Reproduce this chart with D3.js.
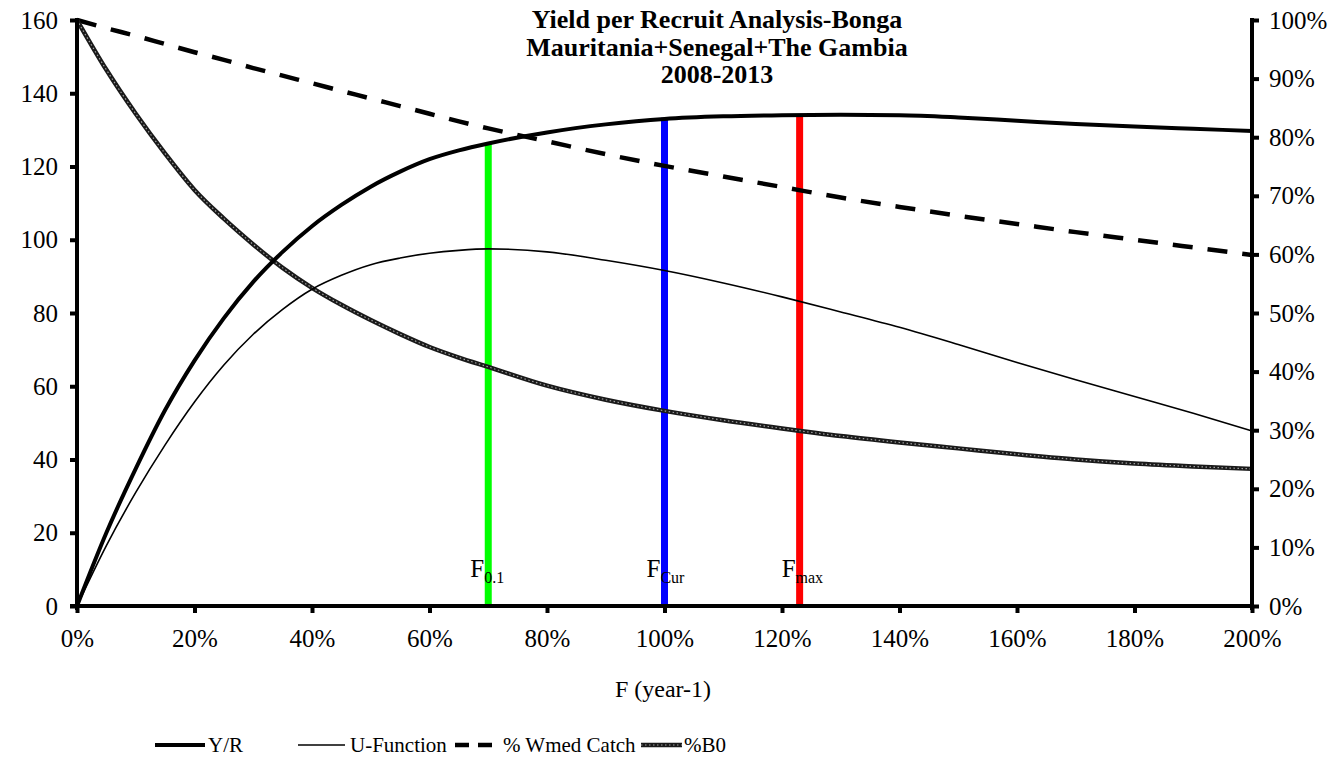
<!DOCTYPE html>
<html><head><meta charset="utf-8">
<script src="https://cdn.jsdelivr.net/npm/d3@7"></script>
<style>
body{margin:0;background:#fff}
svg text{font-family:"Liberation Serif","Times New Roman",serif !important;fill:#000}
</style>
</head><body><svg id="c" width="1337" height="769"></svg>
<script>
// ---- data ----
const fValues = [0,0.05,0.1,0.15,0.2,0.25,0.3,0.35,0.4,0.45,0.5,0.55,0.6,0.65,0.7,0.8,0.9,1.0,1.1,1.2,1.3,1.4,1.5,1.6,1.7,1.8,1.9,2.0];
const yieldPerRecruit = [0,20,37.5,53.5,67,78.6,88.5,96.7,103.7,109.5,114.5,118.6,122,124.4,126.3,129.3,131.5,133,133.7,134,134.1,134,133.4,132.5,131.6,130.9,130.3,129.7];
const uFunction = [0,16.5,31,44,55.7,65.8,74.2,81,86.5,90.3,93.2,95.0,96.3,97.1,97.5,96.7,94.4,91.6,88.2,84.4,80.3,76.1,71.4,66.5,61.8,57.2,52.6,47.8];
const wmedCatch = [1.0,0.986,0.973,0.959,0.945,0.932,0.918,0.905,0.892,0.879,0.866,0.853,0.840,0.827,0.815,0.793,0.771,0.751,0.733,0.715,0.697,0.681,0.666,0.652,0.638,0.625,0.612,0.599];
const pctB0 = [1.0,0.915,0.84,0.772,0.71,0.661,0.617,0.577,0.543,0.514,0.488,0.464,0.442,0.424,0.408,0.376,0.352,0.333,0.317,0.303,0.29,0.279,0.269,0.259,0.25,0.243,0.238,0.234];
const refNames = ["0.1","Cur","max"];
const refF = [0.7,1.0,1.23];
const refTop = [126.4,133.3,134.0];
const leftTicks = [0,20,40,60,80,100,120,140,160];
const rightTicks = [0,0.1,0.2,0.3,0.4,0.5,0.6,0.7,0.8,0.9,1.0];
const xTicks = [0,0.2,0.4,0.6,0.8,1.0,1.2,1.4,1.6,1.8,2.0];
const titleLines = ["Yield per Recruit Analysis-Bonga","Mauritania+Senegal+The Gambia","2008-2013"];
const legendLabels = ["Y/R","U-Function","% Wmed Catch","%B0"];

// ---- drawing ----
const FONT = "Liberation Serif, Times New Roman, serif";
const svg = d3.select("#c");
const x0 = 77, x1 = 1252, yT = 20, yB = 606;
const x = d3.scaleLinear().domain([0,2]).range([x0,x1]);
const yL = d3.scaleLinear().domain([0,160]).range([yB,yT]);
const yR = d3.scaleLinear().domain([0,1]).range([yB,yT]);
const refColors = ["#00ff00","#0000ff","#ff0000"];

// axes
const axL = svg.append("g").attr("transform",`translate(${x0},0)`)
  .call(d3.axisLeft(yL).tickValues(leftTicks).tickSize(7).tickPadding(12).tickFormat(d3.format("d")));
const axR = svg.append("g").attr("transform",`translate(${x1},0)`)
  .call(d3.axisRight(yR).tickValues(rightTicks).tickSize(7).tickPadding(10).tickFormat(d3.format(".0%")));
const axB = svg.append("g").attr("transform",`translate(0,${yB})`)
  .call(d3.axisBottom(x).tickValues(xTicks).tickSize(7).tickPadding(10).tickFormat(d3.format(".0%")));
[axL,axR,axB].forEach(a=>{
  a.attr("font-family",FONT).attr("font-size",25);
  a.select(".domain").remove();
  a.selectAll(".tick line").attr("stroke","#000").attr("stroke-width",4);
  a.selectAll(".tick text").attr("font-family",FONT).attr("font-size",25).attr("fill","#000");
});
axB.selectAll(".tick text").attr("dy","0.95em");

const pts = arr => fValues.map((f,i)=>[f,arr[i]]);
const lineL = d3.line().x(d=>x(d[0])).y(d=>yL(d[1])).curve(d3.curveMonotoneX);
const lineR = d3.line().x(d=>x(d[0])).y(d=>yR(d[1])).curve(d3.curveMonotoneX);

// reference vertical lines
refF.forEach((f,i)=>{
  svg.append("line").attr("x1",x(f)).attr("x2",x(f)).attr("y1",yB).attr("y2",yL(refTop[i]))
    .attr("stroke",refColors[i]).attr("stroke-width",7);
});

// series
svg.append("path").attr("d",lineR(pts(wmedCatch))).attr("fill","none").attr("stroke","#000")
  .attr("stroke-width",4.5).attr("stroke-dasharray","20,15");
svg.append("path").attr("d",lineR(pts(pctB0))).attr("fill","none").attr("stroke","#1a1a1a").attr("stroke-width",4.5);
svg.append("path").attr("d",lineR(pts(pctB0))).attr("fill","none").attr("stroke","#a0a0a0")
  .attr("stroke-width",1.2).attr("stroke-dasharray","1.5,2.5");
svg.append("path").attr("d",lineL(pts(uFunction))).attr("fill","none").attr("stroke","#000").attr("stroke-width",1.6);
svg.append("path").attr("d",lineL(pts(yieldPerRecruit))).attr("fill","none").attr("stroke","#000").attr("stroke-width",4);

// axis lines
svg.append("line").attr("x1",x0).attr("x2",x0).attr("y1",yT-2).attr("y2",yB+4).attr("stroke","#000").attr("stroke-width",4);
svg.append("line").attr("x1",x1).attr("x2",x1).attr("y1",yT-2).attr("y2",yB+4).attr("stroke","#000").attr("stroke-width",4);
svg.append("line").attr("x1",x0-7).attr("x2",x1).attr("y1",yB).attr("y2",yB).attr("stroke","#000").attr("stroke-width",4);

// ref labels
refF.forEach((f,i)=>{
  const t = svg.append("text").attr("x",x(f)-18).attr("y",577).attr("font-family",FONT).attr("font-size",25);
  t.append("tspan").text("F");
  t.append("tspan").attr("dy",6).attr("font-size",16).text(refNames[i]);
});

// title
titleLines.forEach((s,i)=>{
  svg.append("text").attr("x",717).attr("y",28+i*27.5).attr("text-anchor","middle")
    .attr("font-family",FONT).attr("font-size",26).attr("font-weight","bold").text(s);
});

// x title
svg.append("text").attr("x",663).attr("y",697).attr("text-anchor","middle").attr("font-family",FONT).attr("font-size",24).text("F (year-1)");

// legend
const ly = 745;
const leg = [
  {x:155, w:50, tx:208},
  {x:298, w:47, tx:350},
  {x:455, w:40, tx:503},
  {x:641, w:41, tx:684}
];
svg.append("line").attr("x1",leg[0].x).attr("x2",leg[0].x+leg[0].w).attr("y1",ly).attr("y2",ly).attr("stroke","#000").attr("stroke-width",4);
svg.append("line").attr("x1",leg[1].x).attr("x2",leg[1].x+leg[1].w).attr("y1",ly).attr("y2",ly).attr("stroke","#000").attr("stroke-width",1.6);
svg.append("line").attr("x1",leg[2].x).attr("x2",leg[2].x+leg[2].w).attr("y1",ly).attr("y2",ly).attr("stroke","#000").attr("stroke-width",4.5).attr("stroke-dasharray","14,9");
svg.append("line").attr("x1",leg[3].x).attr("x2",leg[3].x+leg[3].w).attr("y1",ly).attr("y2",ly).attr("stroke","#1a1a1a").attr("stroke-width",4.5);
svg.append("line").attr("x1",leg[3].x).attr("x2",leg[3].x+leg[3].w).attr("y1",ly).attr("y2",ly).attr("stroke","#a0a0a0").attr("stroke-width",1.2).attr("stroke-dasharray","1.5,2.5");
legendLabels.forEach((s,i)=>{
  svg.append("text").attr("x",leg[i].tx).attr("y",ly+7).attr("font-family",FONT).attr("font-size",21).text(s);
});
</script>
</body></html>
